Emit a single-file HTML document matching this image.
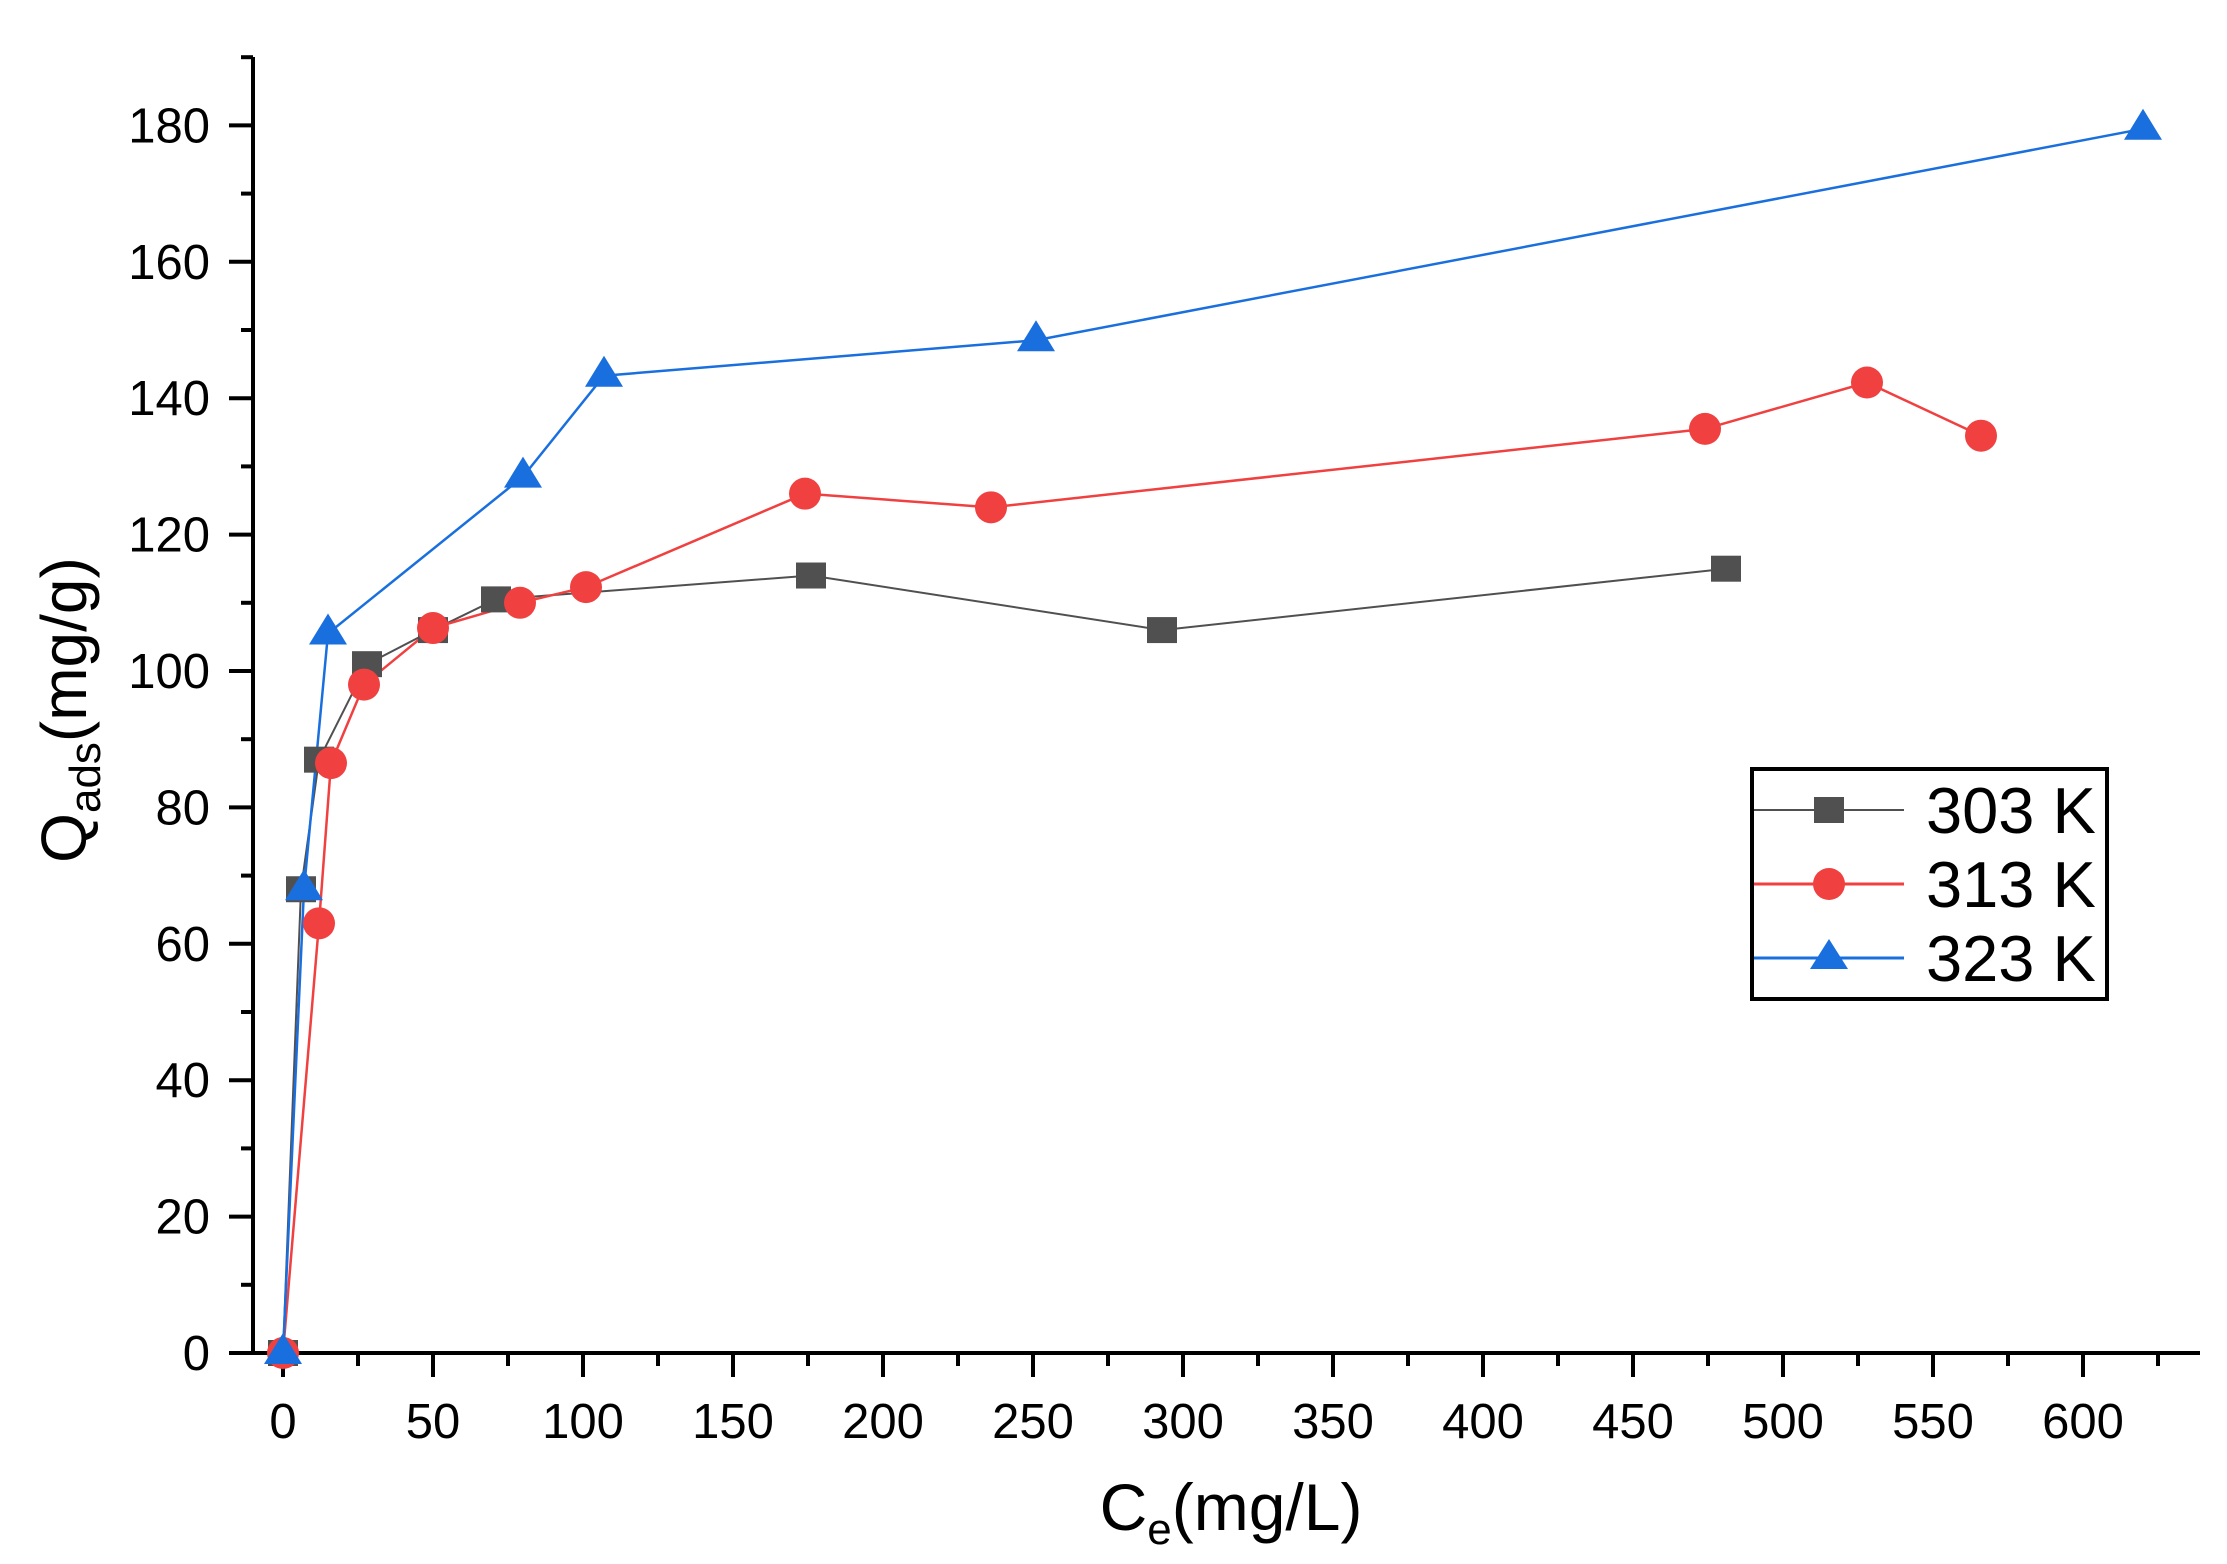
<!DOCTYPE html>
<html><head><meta charset="utf-8"><style>html,body{margin:0;padding:0;background:#fff}svg{display:block}</style></head>
<body>
<svg width="2227" height="1564" viewBox="0 0 2227 1564" xmlns="http://www.w3.org/2000/svg" font-family="Liberation Sans, Arial, sans-serif">
<g id="axes" stroke="#000" stroke-width="4" fill="none">
<line x1="253" y1="57" x2="253" y2="1355"/>
<line x1="241" y1="1353" x2="2200" y2="1353"/>
</g>
<g id="ticks"></g>
<g id="series"></g>
<text x="1231" y="1530" font-size="66" text-anchor="middle">C<tspan font-size="44" dy="14">e</tspan><tspan dy="-14">(mg/L)</tspan></text>
<text transform="translate(86,710) rotate(-90)" font-size="64" text-anchor="middle">Q<tspan font-size="44" dy="14">ads</tspan><tspan dy="-14">(mg/g)</tspan></text>
<rect x="1752" y="769" width="355" height="230" fill="#fff" stroke="#000" stroke-width="4"/>
<line x1="1754" y1="810" x2="1904" y2="810" stroke="#505050" stroke-width="2"/>
<rect x="1814" y="797" width="30" height="26" fill="#505050"/>
<line x1="1754" y1="884" x2="1904" y2="884" stroke="#f04040" stroke-width="3"/>
<circle cx="1829" cy="884" r="16" fill="#f04040"/>
<line x1="1754" y1="958" x2="1904" y2="958" stroke="#1a6fdf" stroke-width="3"/>
<polygon points="1829,939 1848,969 1810,969" fill="#1a6fdf"/>
<text x="1926" y="833" font-size="65">303 K</text>
<text x="1926" y="907" font-size="65">313 K</text>
<text x="1926" y="981" font-size="65">323 K</text>
<script>
var NS="http://www.w3.org/2000/svg";
function X(v){return 283+v*3.0}function Y(v){return 1353-v*6.82}
function el(p,t,a,txt){var e=document.createElementNS(NS,t);for(var k in a)e.setAttribute(k,a[k]);if(txt!==undefined)e.textContent=txt;p.appendChild(e);return e}
var tk=document.getElementById('ticks');
for(var v=0;v<=625;v+=25){var maj=v%50==0;el(tk,'line',{x1:X(v),x2:X(v),y1:1353,y2:maj?1377:1366,stroke:'#000','stroke-width':4});
 if(maj)el(tk,'text',{x:X(v),y:1438,'font-size':49,'text-anchor':'middle'},v);}
for(var v=0;v<=190;v+=10){var maj=v%20==0;el(tk,'line',{x1:maj?229:241,x2:253,y1:Y(v),y2:Y(v),stroke:'#000','stroke-width':4});
 if(maj)el(tk,'text',{x:210,y:Y(v)+17,'font-size':49,'text-anchor':'end'},v);}
var S=[
 {c:'#505050',w:2,m:'s',d:[[0,0],[6,68],[12,87],[28,101],[50,106],[71,110.5],[176,114],[293,106],[481,115]]},
 {c:'#f04040',w:2.5,m:'c',d:[[0,0],[12,63],[16,86.5],[27,98],[50,106.3],[79,110],[101,112.3],[174,126],[236,124],[474,135.5],[528,142.3],[566,134.5]]},
 {c:'#1a6fdf',w:2.5,m:'t',d:[[0,0],[7,68],[15,105.5],[80,128.5],[107,143.3],[251,148.5],[620,179.5]]}];
var sg=document.getElementById('series');
S.forEach(function(s){var pts=s.d.map(function(p){return X(p[0])+','+Y(p[1])}).join(' ');
 el(sg,'polyline',{points:pts,fill:'none',stroke:s.c,'stroke-width':s.w});});
S.forEach(function(s){s.d.forEach(function(p){var x=X(p[0]),y=Y(p[1]);
 if(s.m=='s')el(sg,'rect',{x:x-15,y:y-13,width:30,height:26,fill:s.c});
 else if(s.m=='c')el(sg,'circle',{cx:x,cy:y,r:16,fill:s.c});
 else el(sg,'polygon',{points:(x)+','+(y-20)+' '+(x+19)+','+(y+11)+' '+(x-19)+','+(y+11),fill:s.c});});});
</script>
</svg>
</body></html>
